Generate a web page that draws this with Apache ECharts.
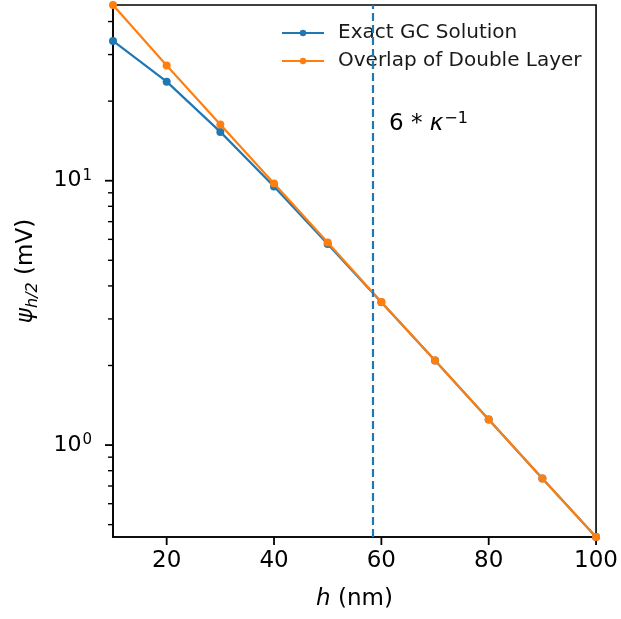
<!DOCTYPE html>
<html>
<head>
<meta charset="utf-8">
<script src="https://cdn.jsdelivr.net/npm/echarts@6/dist/echarts.min.js"></script>
<style>html,body{margin:0;padding:0;background:#fff}#c{width:621px;height:619px}</style>
</head>
<body>
<div id="c"></div>
<script>
// ---- data ----
const hValues = [10, 20, 30, 40, 50, 60, 70, 80, 90, 100];
const exactGC = [33.8, 23.7, 15.3, 9.51, 5.76, 3.47, 2.09, 1.25, 0.748, 0.449];
const overlapDL = [46.2, 27.3, 16.3, 9.75, 5.84, 3.48, 2.09, 1.25, 0.748, 0.449];
const debyeMark = 58.4;            // 6 * kappa^-1 (nm)
const xTickValues = [20, 40, 60, 80, 100];
const yMajorTicks = [1, 10];
const yMinorTicks = [0.5, 0.6, 0.7, 0.8, 0.9, 2, 3, 4, 5, 6, 7, 8, 9, 20, 30, 40];
const xRange = [10, 100];
const yRange = [0.449, 46.2];

const FONT = 'DejaVu Sans';
const BLUE = '#1f77b4', ORANGE = '#ff7f0e';

const chart = echarts.init(document.getElementById('c'), null, {renderer: 'canvas'});

function pairs(ys) { return hValues.map((h, i) => [h, ys[i]]); }

chart.setOption({
  animation: false,
  backgroundColor: '#fff',
  textStyle: {fontFamily: FONT},
  grid: {left: 113, right: 23, top: 5, bottom: 82, show: true, borderColor: '#000', borderWidth: 1.6, containLabel: false},
  legend: {
    orient: 'vertical', left: 276, top: 18, itemGap: 8, itemWidth: 42, itemHeight: 8,
    textStyle: {fontFamily: FONT, fontSize: 20, color: '#1a1a1a', padding: [0, 0, 0, 9]},
    data: ['Exact GC Solution', 'Overlap of Double Layer']
  },
  xAxis: {
    type: 'value', min: xRange[0], max: xRange[1],
    name: '{i|h} (nm)', nameLocation: 'middle', nameGap: 51,
    nameTextStyle: {fontFamily: FONT, fontSize: 23, color: '#000', rich: {i: {fontStyle: 'italic', fontFamily: FONT, fontSize: 23, color: '#000'}}},
    axisLine: {show: true, lineStyle: {color: '#000', width: 1.6}},
    axisTick: {show: false},
    axisLabel: {fontFamily: FONT, fontSize: 23, color: '#000', margin: 13, customValues: xTickValues},
    splitLine: {show: false}
  },
  yAxis: {
    type: 'log', logBase: 10, min: yRange[0], max: yRange[1],
    name: '{p|ψ}{s|h/2} (mV)', nameLocation: 'middle', nameGap: 72, nameRotate: 90,
    nameTextStyle: {fontFamily: FONT, fontSize: 23, color: '#000',
      rich: {p: {fontStyle: 'italic', fontFamily: FONT, fontSize: 23, color: '#000'},
             s: {fontStyle: 'italic', fontFamily: FONT, fontSize: 16, color: '#000', verticalAlign: 'bottom', padding: [14, 0, 0, 0]}}},
    axisLine: {show: true, lineStyle: {color: '#000', width: 1.6}},
    axisTick: {show: false},
    splitLine: {show: false},
    minorTick: {show: false},
    axisLabel: {
      showMinLabel: false, showMaxLabel: false, margin: 21,
      formatter: function (v) {
        const e = Math.log10(v);
        if (Math.abs(e - Math.round(e)) > 1e-6) return '';
        return '{b|10}{s|' + Math.round(e) + '}';
      },
      rich: {
        b: {fontFamily: FONT, fontSize: 22, color: '#000'},
        s: {fontFamily: FONT, fontSize: 15, color: '#000', verticalAlign: 'top', padding: [0, 0, 10, 1]}
      }
    }
  },
  series: [
    {
      name: 'Exact GC Solution', type: 'line', data: pairs(exactGC), z: 2,
      color: BLUE, symbol: 'circle', symbolSize: 8, showSymbol: true,
      lineStyle: {color: BLUE, width: 2.2}, itemStyle: {color: BLUE},
      markLine: {
        silent: true, symbol: 'none', label: {show: false},
        lineStyle: {color: BLUE, type: [8, 4], width: 2.2},
        data: [{xAxis: debyeMark}]
      }
    },
    {
      name: 'Overlap of Double Layer', type: 'line', data: pairs(overlapDL), z: 3,
      color: ORANGE, symbol: 'circle', symbolSize: 8, showSymbol: true,
      lineStyle: {color: ORANGE, width: 2.2}, itemStyle: {color: ORANGE}
    }
  ]
});

// Tick marks placed through the chart's own axis scales
const tickGraphics = [];
function toPx(x, y) { return chart.convertToPixel({gridIndex: 0}, [x, y]); }
yMajorTicks.forEach(v => {
  const p = toPx(xRange[0], v);
  tickGraphics.push({type: 'line', shape: {x1: p[0] - 8, y1: p[1], x2: p[0], y2: p[1]}, style: {stroke: '#000000', lineWidth: 1.8}});
});
yMinorTicks.forEach(v => {
  const p = toPx(xRange[0], v);
  tickGraphics.push({type: 'line', shape: {x1: p[0] - 5, y1: p[1], x2: p[0], y2: p[1]}, style: {stroke: '#000000', lineWidth: 1.4}});
});
xTickValues.forEach(v => {
  const p = toPx(v, yRange[0]);
  tickGraphics.push({type: 'line', shape: {x1: p[0], y1: p[1], x2: p[0], y2: p[1] + 8}, style: {stroke: '#000000', lineWidth: 1.8}});
});
tickGraphics.push({
  type: 'text', left: 389, top: 111,
  style: {
    text: '{n|6 * }{k|κ}{s|−1}',
    rich: {
      n: {fontFamily: FONT, fontSize: 23, fill: '#000'},
      k: {fontFamily: FONT, fontSize: 23, fontStyle: 'italic', fill: '#000'},
      s: {fontFamily: FONT, fontSize: 16, fill: '#000', verticalAlign: 'top', padding: [0, 0, 10, 1]}
    }
  }
});
chart.setOption({graphic: tickGraphics});
</script>
</body>
</html>
